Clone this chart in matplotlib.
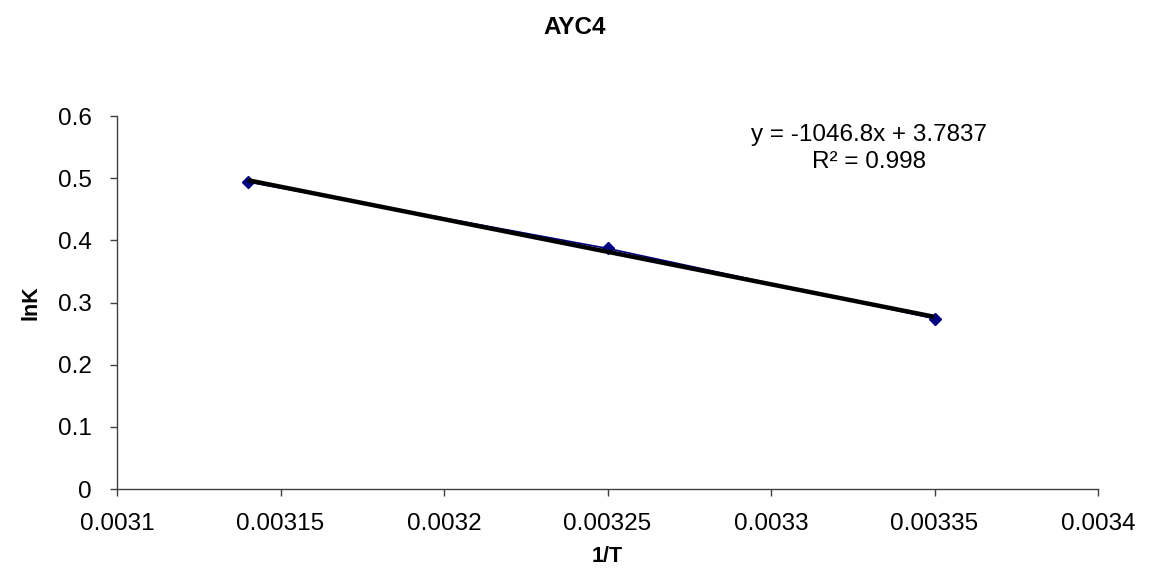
import matplotlib
matplotlib.use("Agg")
import matplotlib.pyplot as plt
import numpy as np

plt.rcParams['font.family'] = ['Liberation Sans', 'DejaVu Sans']

inv_T = [0.00314, 0.00325, 0.00335]
ln_K = [0.494, 0.387, 0.274]
slope = -1046.8
intercept = 3.7837
r_squared = 0.998
x_ticks = [0.0031, 0.00315, 0.0032, 0.00325, 0.0033, 0.00335, 0.0034]
x_tick_labels = ["0.0031", "0.00315", "0.0032", "0.00325", "0.0033", "0.00335", "0.0034"]
y_ticks = [0, 0.1, 0.2, 0.3, 0.4, 0.5, 0.6]
y_tick_labels = ["0", "0.1", "0.2", "0.3", "0.4", "0.5", "0.6"]

W, H = 1150, 585
fig = plt.figure(figsize=(W / 100, H / 100), dpi=100)
ax_l, ax_r, ax_t, ax_b = 117, 1098, 116, 489
ax = fig.add_axes([ax_l / W, 1 - ax_b / H, (ax_r - ax_l) / W, (ax_b - ax_t) / H])

# data series: navy line with diamond markers
ax.plot(inv_T, ln_K, color="#000080", lw=1.2, marker="D", ms=6.5,
        markerfacecolor="#000080", markeredgecolor="#000080", zorder=3)

# linear trendline from the fitted coefficients
xf = np.array([min(inv_T), max(inv_T)])
ax.plot(xf, slope * xf + intercept, color="black", lw=3.2,
        solid_capstyle="butt", zorder=4)

ax.set_xlim(0.0031, 0.0034)
ax.set_ylim(0, 0.6)
ax.set_xticks(x_ticks)
ax.set_xticklabels(x_tick_labels)
ax.set_yticks(y_ticks)
ax.set_yticklabels(y_tick_labels)
ax.tick_params(direction="out", length=5, width=1, colors="#404040",
               labelcolor="black", labelsize=17.5)
ax.tick_params(axis="x", pad=12)
ax.tick_params(axis="y", pad=13)

for side in ("top", "right"):
    ax.spines[side].set_visible(False)
for side in ("left", "bottom"):
    ax.spines[side].set_color("#404040")
    ax.spines[side].set_linewidth(1)

ax.set_xlabel("1/T", fontsize=15.5, fontweight="bold")
ax.xaxis.label.set_va("center")
ax.xaxis.set_label_coords((607 - ax_l) / (ax_r - ax_l), -(557 - ax_b) / (ax_b - ax_t))
ax.set_ylabel("lnK", fontsize=15.5, fontweight="bold")
ax.yaxis.label.set_va("center")
ax.yaxis.set_label_coords(-(ax_l - 31) / (ax_r - ax_l), 0.5)

fig.text(0.5, 1 - 27 / H, "AYC4", ha="center", va="center",
         fontsize=17.5, fontweight="bold")

fig.text(869 / W, 1 - 135 / H, f"y = {slope}x + {intercept}",
         ha="center", va="center", fontsize=17.5)
fig.text(869 / W, 1 - 162 / H, f"R² = {r_squared}",
         ha="center", va="center", fontsize=17.5)

fig.savefig("out.png", dpi=100, facecolor="white")
